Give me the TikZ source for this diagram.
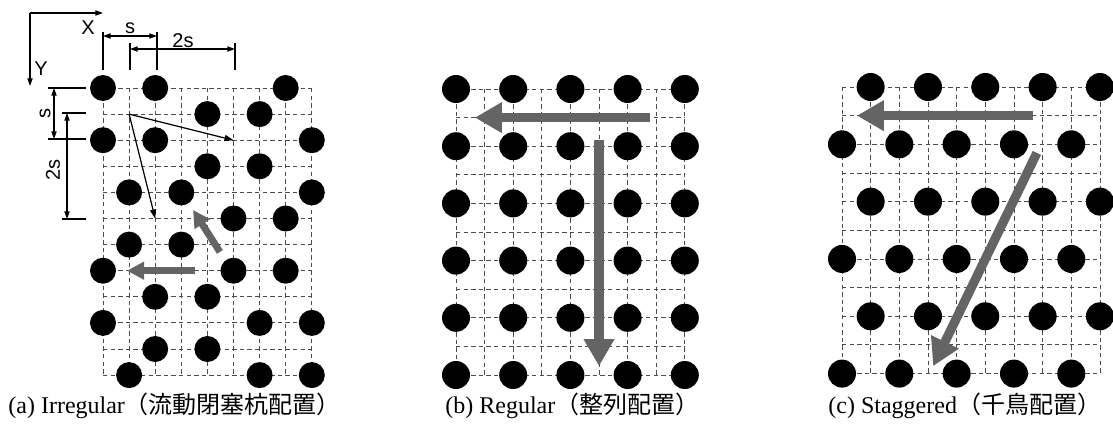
\documentclass[tikz,border=0pt]{standalone}
\usepackage{fontspec}
\setmainfont{Liberation Serif}
\newfontfamily\jpfont{Noto Sans CJK JP}
\newfontfamily\dimfont{Liberation Sans}
\usepackage{xcolor}
\usepackage{tikz}
\usetikzlibrary{arrows.meta}
\definecolor{flowgray}{RGB}{100,100,100}

\begin{document}
\begin{tikzpicture}[x=0.5pt, y=-0.5pt,
  pile/.style={circle, fill=black, inner sep=0pt, minimum size=#1}, pile/.default=14pt,
  gridline/.style={draw=black!70, line width=0.45pt, dash pattern=on 2.2pt off 1.6pt},
  dimline/.style={line width=0.55pt, >={Triangle[length=3.8pt,width=2.6pt]}},
  dimlbl/.style={font=\dimfont\fontsize{10}{12}\selectfont, inner sep=0pt},
  flowa/.style={flowgray, line width=3.5pt, -{Triangle[length=8.5pt,width=8.5pt]}},
  flowb/.style={flowgray, line width=4.6pt, -{Triangle[length=13.5pt,width=14.5pt]}},
  captext/.style={font=\fontsize{12}{14}\selectfont, inner sep=0pt, anchor=base west}]
\useasboundingbox (0,0) rectangle (1113,423);

% (a) irregular
\begin{scope}[shift={(103,88)}, x=13.05pt, y=-13.05pt]
\foreach \i in {0,...,8} \draw[gridline] (\i,0) -- (\i,11);
\foreach \j in {0,...,11} \draw[gridline] (0,\j) -- (8,\j);
\foreach \c/\r in {0/0,2/0,7/0, 4/1,6/1, 0/2,2/2,8/2, 4/3,6/3, 1/4,3/4,8/4,
  5/5,7/5, 1/6,3/6, 0/7,5/7,7/7, 2/8,4/8, 0/9,6/9,8/9, 2/10,4/10, 1/11,6/11,8/11}
  \node[pile=13pt] (a-\c-\r) at (\c,\r) {};
\coordinate (a-org) at (1,1);
\coordinate (a-e1) at (5,2);
\coordinate (a-e2) at (2,5);
\draw[line width=0.6pt, -{Triangle[length=4.5pt,width=3pt]}] (a-org) -- (a-e1);
\draw[line width=0.6pt, -{Triangle[length=4.5pt,width=3pt]}] (a-org) -- (a-e2);
\coordinate (a-f1s) at (3.52,7);
\coordinate (a-f1e) at (0.92,7);
\coordinate (a-f2s) at (4.48,6.28);
\coordinate (a-f2e) at (3.45,4.67);
\draw[flowa] (a-f1s) -- (a-f1e);
\draw[flowa] (a-f2s) -- (a-f2e);
\end{scope}

\coordinate (axo) at (30,13);
\coordinate (axx) at (103,13);
\coordinate (axy) at (30,86);
\draw[dimline, ->] (axo) -- (axx);
\draw[dimline, ->] (axo) -- (axy);
\node[dimlbl] (xlbl) at (88,28) {X};
\node[dimlbl] (ylbl) at (41,69) {Y};

\coordinate (hs1) at (103,36);
\coordinate (hs2) at (157,36);
\coordinate (h2s1) at (130,49);
\coordinate (h2s2) at (235,49);
\draw[dimline] (103,32) -- (103,70) (157,32) -- (157,70) (130,43) -- (130,70) (235,43) -- (235,70);
\draw[dimline, <->] (hs1) -- (hs2);
\draw[dimline, <->] (h2s1) -- (h2s2);
\node[dimlbl] (hslbl) at (130,28) {s};
\node[dimlbl] (h2slbl) at (183,41) {2s};

\coordinate (vs1) at (54,88);
\coordinate (vs2) at (54,139);
\coordinate (v2s1) at (67,113);
\coordinate (v2s2) at (67,219);
\draw[dimline] (48,88) -- (86,88) (48,139) -- (86,139) (62,113) -- (86,113) (62,219) -- (86,219);
\draw[dimline, <->] (vs1) -- (vs2);
\draw[dimline, <->] (v2s1) -- (v2s2);
\node[dimlbl, rotate=90] (vslbl) at (45,113) {s};
\node[dimlbl, rotate=90] (v2slbl) at (53,170) {2s};

% (b) regular
\begin{scope}[shift={(456,89)}, x=14.3pt, y=-14.3pt]
\foreach \i in {0,...,8} \draw[gridline] (\i,0) -- (\i,10);
\foreach \j in {0,...,10} \draw[gridline] (0,\j) -- (8,\j);
\foreach \c in {0,2,...,8}
  \foreach \r in {0,2,...,10}
    \node[pile] (b-\c-\r) at (\c,\r) {};
\coordinate (b-f1s) at (6.78,1);
\coordinate (b-f1e) at (0.66,1);
\coordinate (b-f2s) at (5,1.78);
\coordinate (b-f2e) at (5,9.69);
\draw[flowb] (b-f1s) -- (b-f1e);
\draw[flowb] (b-f2s) -- (b-f2e);
\end{scope}

% (c) staggered
\begin{scope}[shift={(842,87)}, x=14.33pt, y=-14.33pt]
\foreach \i in {0,...,9} \draw[gridline] (\i,0) -- (\i,10);
\foreach \j in {0,...,10} \draw[gridline] (0,\j) -- (9,\j);
\foreach \r in {0,2,...,10}
  \foreach \k in {0,...,4} {
    \pgfmathtruncatemacro\c{2*\k+mod(\r/2+1,2)}
    \node[pile] (c-\c-\r) at (\c,\r) {};
  }
\coordinate (c-f1s) at (6.67,1);
\coordinate (c-f1e) at (0.52,1);
\coordinate (c-f2s) at (6.8,2.3);
\coordinate (c-f2e) at (3.18,9.74);
\draw[flowb] (c-f1s) -- (c-f1e);
\draw[flowb] (c-f2s) -- (c-f2e);
\end{scope}

\node[captext] (capa) at (8,413) {(a) Irregular{\jpfont（流動閉塞杭配置）}};
\node[captext] (capb) at (445,413) {(b) Regular{\jpfont（整列配置）}};
\node[captext] (capc) at (828,413) {(c) Staggered{\jpfont（千鳥配置）}};
\end{tikzpicture}
\end{document}
